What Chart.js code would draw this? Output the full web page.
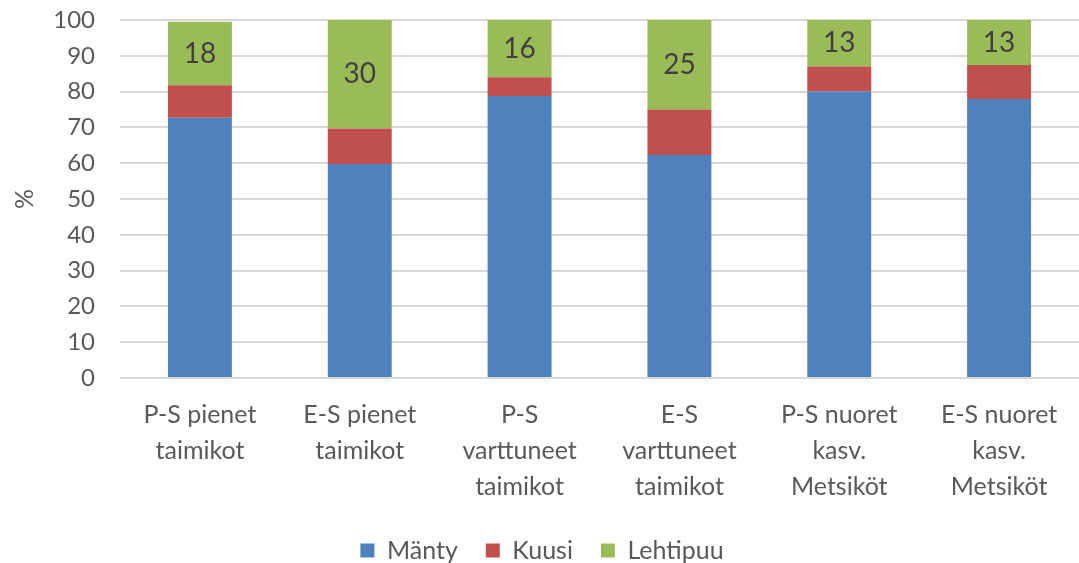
<!DOCTYPE html>
<html>
<head>
<meta charset="utf-8">
<script src="https://cdn.jsdelivr.net/npm/chart.js@4"></script>
<style>
  body { margin: 0; background: #fff; }
  canvas { display: block; }
</style>
</head>
<body>
<canvas id="canvas" width="1079" height="563"></canvas>
<script>
const categories = [
  ['P-S pienet', 'taimikot'],
  ['E-S pienet', 'taimikot'],
  ['P-S', 'varttuneet', 'taimikot'],
  ['E-S', 'varttuneet', 'taimikot'],
  ['P-S nuoret', 'kasv.', 'Metsiköt'],
  ['E-S nuoret', 'kasv.', 'Metsiköt']
]
const mantyValues = [72.7, 59.8, 78.8, 62.3, 80.0, 77.9]
const kuusiValues = [9.1, 9.9, 5.2, 12.7, 7.0, 9.5]
const lehtipuuValues = [17.7, 30.3, 16.0, 25.0, 13.0, 12.6]
const yTicks = [0, 10, 20, 30, 40, 50, 60, 70, 80, 90, 100]

const fontFamily = 'Lato, "Open Sans", sans-serif'
const textColor = '#595959'

// labels for the Lehtipuu segments
const segmentLabels = {
  id: 'segmentLabels',
  afterDatasetsDraw(chart) {
    const ctx = chart.ctx
    const meta = chart.getDatasetMeta(2)
    ctx.save()
    ctx.font = '28px ' + fontFamily
    ctx.fillStyle = '#404040'
    ctx.textAlign = 'center'
    ctx.textBaseline = 'middle'
    meta.data.forEach((bar, i) => {
      const y = (bar.y + bar.base) / 2
      ctx.fillText(Math.round(lehtipuuValues[i]), bar.x, y)
    })
    ctx.restore()
  }
}

// legend needs wide gaps between items but not that much height
const legendHeight = {
  id: 'legendHeight',
  beforeInit(chart) {
    const fit = chart.legend.fit
    chart.legend.fit = function () {
      fit.bind(chart.legend)()
      this.height -= 10
    }
  }
}

const ctx = document.querySelector('#canvas').getContext('2d')

const config = {
  type: 'bar',
  data: {
    labels: categories,
    datasets: [
      { label: 'Mänty', data: mantyValues, backgroundColor: '#4F81BD' },
      { label: 'Kuusi', data: kuusiValues, backgroundColor: '#C0504D' },
      { label: 'Lehtipuu', data: lehtipuuValues, backgroundColor: '#9BBB59' }
    ]
  },
  options: {
    responsive: false,
    animation: false,
    layout: { padding: { top: 20, left: 5, right: 0, bottom: 0 } },
    datasets: {
      bar: { categoryPercentage: 1, barPercentage: 0.4 }
    },
    plugins: {
      legend: {
        position: 'bottom',
        labels: {
          boxWidth: 14,
          boxHeight: 14,
          padding: 28,
          color: textColor,
          font: { family: fontFamily, size: 25 }
        }
      },
      tooltip: { enabled: false }
    },
    scales: {
      x: {
        stacked: true,
        grid: { display: false },
        border: { display: false },
        ticks: {
          color: textColor,
          padding: 11,
          maxRotation: 0,
          font: { family: fontFamily, size: 25, lineHeight: 1.44 }
        },
        afterFit(scale) { scale.height = 132 }
      },
      y: {
        stacked: true,
        min: 0,
        max: 100,
        afterBuildTicks(scale) { scale.ticks = yTicks.map(v => ({ value: v })) },
        grid: {
          color: '#D9D9D9',
          lineWidth: 2,
          drawTicks: true,
          tickLength: 25,
          tickColor: 'rgba(0,0,0,0)'
        },
        border: { display: false },
        ticks: {
          color: textColor,
          padding: 0,
          font: { family: fontFamily, size: 24 }
        },
        title: {
          display: true,
          text: '%',
          color: textColor,
          padding: { top: 5, bottom: 0 },
          font: { family: fontFamily, size: 25 }
        },
        afterFit(scale) { scale.width = 115 }
      }
    }
  },
  plugins: [segmentLabels, legendHeight]
}

const myChart = new Chart(ctx, config)
</script>
</body>
</html>
